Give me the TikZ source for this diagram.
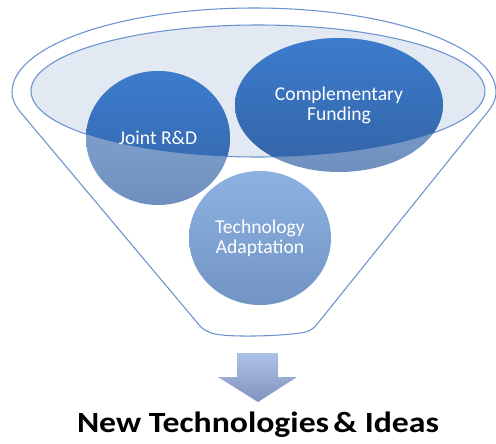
\documentclass[tikz,border=0pt]{standalone}
\usepackage{fontspec}
\setmainfont{Carlito}
\definecolor{rimblue}{HTML}{6A93CF}
\definecolor{innerfill}{HTML}{E3E9F3}
\definecolor{darktop}{HTML}{3C7CCD}
\definecolor{darkbot}{HTML}{3363A6}
\definecolor{lighttop}{HTML}{8AAAD4}
\definecolor{lightbot}{HTML}{6F8FBE}
\definecolor{tatop}{HTML}{8DB2E2}
\definecolor{tabot}{HTML}{7294C3}
\definecolor{arrowtop}{HTML}{AEC2E6}
\definecolor{arrowbot}{HTML}{8193BD}
\tikzset{
  rim/.style={draw=rimblue, line width=0.8pt},
  bubbledark/.style={top color=darktop, bottom color=darkbot, draw=none},
  bubblelight/.style={top color=lighttop, bottom color=lightbot, draw=none},
  bubbleta/.style={top color=tatop, bottom color=tabot, draw=none},
  bubbletext/.style={text=white, align=center, inner sep=0pt,
    font=\fontsize{14.7}{15}\selectfont},
  blockarrow/.style={top color=arrowtop, bottom color=arrowbot, draw=none},
  caption/.style={text=black, inner sep=0pt, font=\bfseries\fontsize{22}{26}\selectfont}
}
\begin{document}
\begin{tikzpicture}[x=0.75pt,y=-0.75pt]
\useasboundingbox (0,0) rectangle (496,443);

% funnel outline: rim on top, slanted sides, rounded bottom
\filldraw[rim, fill=white]
  (12,92) .. controls (12,45.6) and (120.3,8) .. (254,8)
  .. controls (387.7,8) and (496,45.6) .. (496,92)
  .. controls (496,100) and (492,107) .. (486,114)
  -- (318,323) .. controls (313,330) and (308,332) .. (300,333)
  .. controls (280,336) and (240,337) .. (222,335)
  .. controls (212,334) and (206,332) .. (200,326)
  -- (22,114) .. controls (16,107) and (12,100) .. cycle;

% inner opening of the funnel
\filldraw[rim, fill=innerfill] (258,91) ellipse [x radius=227, y radius=66];

% bubbles: pale below the opening, deep blue inside it
\path[bubblelight] (158,138) ellipse [x radius=72, y radius=67];
\path[bubblelight] (339,105) ellipse [x radius=104, y radius=67];
\begin{scope}
  \clip (258,91) ellipse [x radius=227, y radius=66];
  \path[bubbledark] (158,138) ellipse [x radius=72, y radius=67];
  \path[bubbledark] (339,105) ellipse [x radius=104, y radius=67];
\end{scope}
\path[bubbleta] (260,238) ellipse [x radius=71, y radius=67];

\node[bubbletext] (jrd) at (158,138) {Joint R\&D};
\node[bubbletext] (cf) at (339,105) {Complementary\\Funding};
\node[bubbletext] (ta) at (260,238) {Technology\\Adaptation};

% output arrow and result
\path[blockarrow] (237,353) -- (278,353) -- (278,377) -- (297,377)
  -- (258,402) -- (218,377) -- (237,377) -- cycle;
\node[caption, anchor=base] (out) at (258,432) {\scalebox{1.15}[1]{New Technologies\kern-0.1em{} \& Ideas}};
\end{tikzpicture}
\end{document}
